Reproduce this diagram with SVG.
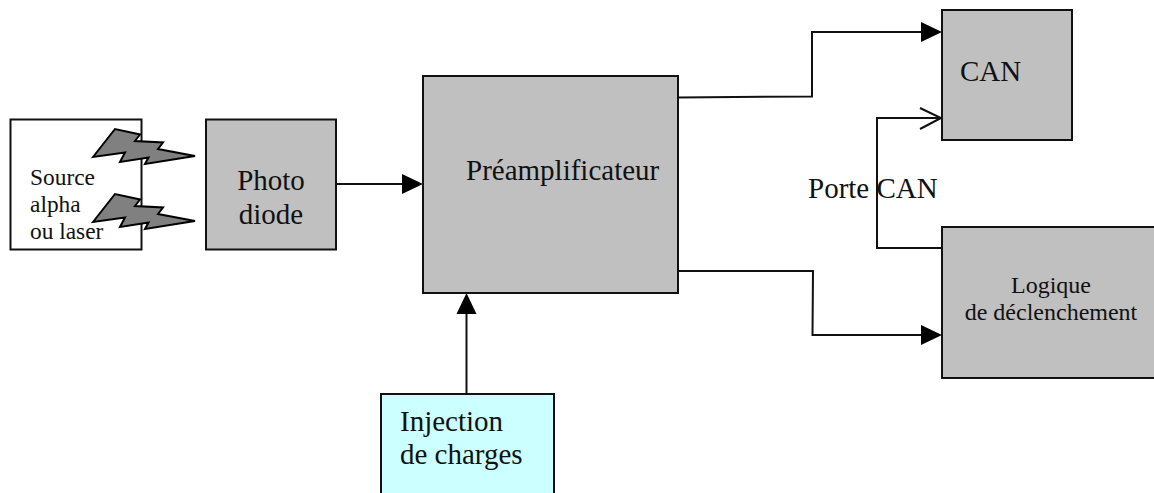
<svg xmlns="http://www.w3.org/2000/svg" width="1154" height="493" viewBox="0 0 1154 493">
<style>
text{font-family:"Liberation Serif","Times New Roman",serif;fill:#111}
.g{fill:#c0c0c0;stroke:#111;stroke-width:2}
.w{fill:#fff;stroke:#111;stroke-width:2}
.c{fill:#ccffff;stroke:#111;stroke-width:2}
.z{fill:#808080;stroke:#000;stroke-width:2;stroke-linejoin:miter}
.l{fill:none;stroke:#111;stroke-width:2}
.s{font-size:23.400px}.b{font-size:29px}.m{font-size:24px}
</style>
<defs>
<path id="bolt" d="M93 157L115 129L140 134.500L135 141L163 142.500L158 149L195 156L145 164L148.500 157.500L120 162L125 152.500Z"/>
</defs>
<g id="source">
<rect class="w" x="10.500" y="119.500" width="131" height="130"/>
<text class="s" x="30" y="185">Source</text>
<text class="s" x="30" y="212">alpha</text>
<text class="s" x="30" y="239">ou laser</text>
<use href="#bolt" class="z"/>
<use href="#bolt" class="z" y="65"/>
</g>
<g id="photodiode">
<rect class="g" x="206" y="119.500" width="130" height="130"/>
<text class="b" x="271" y="190" text-anchor="middle">Photo</text>
<text class="b" x="271" y="224" text-anchor="middle">diode</text>
</g>
<g id="preamp">
<rect class="g" x="423" y="76" width="255" height="217"/>
<text class="b" x="466" y="180">Préamplificateur</text>
</g>
<g id="can">
<rect class="g" x="942" y="10" width="130" height="130"/>
<text class="b" x="960" y="81">CAN</text>
</g>
<g id="logique">
<rect class="g" x="942" y="227" width="213" height="151"/>
<text class="m" x="1051" y="293" text-anchor="middle">Logique</text>
<text class="m" x="1051" y="320" text-anchor="middle">de déclenchement</text>
</g>
<g id="injection">
<rect class="c" x="381" y="394" width="173" height="110"/>
<text class="b" x="400" y="431">Injection</text>
<text class="b" x="400" y="464">de charges</text>
</g>
<g id="connectors">
<path class="l" d="M336 184H403"/>
<path d="M423 184L402 174V194Z"/>
<path class="l" d="M466.500 394V313"/>
<path d="M466.500 293L456.500 314H476.500Z"/>
<path class="l" d="M678 97.500L812 96.500V32H922"/>
<path d="M942 32L921 22V42Z"/>
<path class="l" d="M678 271H813L812.500 335H922"/>
<path d="M942 335L921 325V345Z"/>
<path class="l" d="M942 248H877V118H941M920 108L941 118L920 129"/>
</g>
<g id="label-porte"><text class="b" x="808" y="198">Porte CAN</text></g>
</svg>
